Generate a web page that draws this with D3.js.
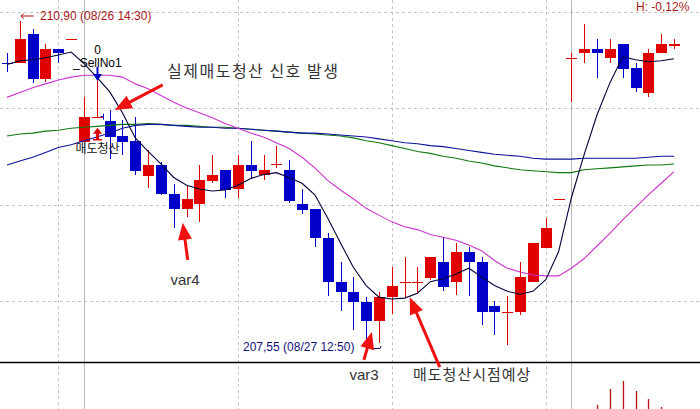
<!DOCTYPE html>
<html>
<head>
<meta charset="utf-8">
<script src="https://cdn.jsdelivr.net/npm/d3@7"></script>
<style>
  body { margin: 0; background: #fff; }
  svg { display: block; }
  text { font-family: "Liberation Sans", "Noto Sans CJK KR", sans-serif; }
  .kr { font-family: "Noto Sans CJK KR", sans-serif; }
</style>
</head>
<body>
<div id="chart"></div>
<script>
const WIDTH = 700
const HEIGHT = 409

// 10-minute candles, 08/26 - 08/27
const opens = [210.47, 210.47, 210.77, 210.30, 210.61, 210.72, 209.65, 209.91, 209.87, 209.71,
    209.66, 209.30, 209.41, 209.11, 208.95, 209.01, 209.24, 209.36, 209.16, 209.41,
    209.31, 209.42, 209.36, 209.01, 208.95, 208.65, 208.20, 208.09, 207.99, 207.79,
    208.04, 208.20, 208.20, 208.24, 208.40, 208.20, 208.51, 208.40, 207.95, 207.89,
    207.89, 208.20, 208.55, 209.06, 210.52, 210.57, 210.61, 210.52, 210.66, 210.41,
    210.16, 210.57, 210.66]
const highs = [210.57, 210.90, 210.82, 210.66, 210.61, 210.72, 210.11, 210.29, 209.98, 209.88,
    209.91, 209.56, 209.44, 209.21, 209.20, 209.41, 209.51, 209.36, 209.51, 209.66,
    209.51, 209.61, 209.46, 209.16, 208.95, 208.70, 208.40, 208.25, 208.04, 208.09,
    208.35, 208.46, 208.35, 208.46, 208.66, 208.60, 208.56, 208.46, 208.00, 208.05,
    208.40, 208.60, 208.86, 209.06, 210.57, 210.87, 210.72, 210.72, 210.66, 210.47,
    210.61, 210.77, 210.72]
const lows = [210.37, 210.47, 210.26, 210.27, 210.47, 210.72, 209.65, 209.91, 209.47, 209.51,
    209.31, 209.17, 209.10, 208.76, 208.87, 208.82, 209.22, 209.07, 209.07, 209.26,
    209.25, 209.38, 209.02, 208.90, 208.56, 208.05, 207.90, 207.70, 207.55, 207.56,
    207.87, 208.04, 208.07, 208.22, 208.10, 208.06, 208.05, 207.75, 207.65, 207.54,
    207.86, 208.20, 208.55, 209.06, 210.06, 210.47, 210.31, 210.47, 210.31, 210.17,
    210.11, 210.57, 210.61]
const closes = [210.46, 210.72, 210.30, 210.61, 210.57, 210.72, 209.91, 209.91, 209.70, 209.65,
    209.35, 209.41, 209.11, 208.95, 209.06, 209.25, 209.31, 209.15, 209.41, 209.35,
    209.36, 209.42, 209.04, 208.94, 208.65, 208.20, 208.09, 207.99, 207.79, 208.04,
    208.16, 208.20, 208.20, 208.46, 208.15, 208.51, 208.40, 207.89, 207.89, 207.89,
    208.25, 208.60, 208.76, 209.06, 210.52, 210.61, 210.57, 210.61, 210.40, 210.21,
    210.57, 210.66, 210.66]

const maShort = [210.45, 210.49, 210.50, 210.52, 210.55, 210.58, 210.46, 210.32, 210.17, 209.95,
    209.69, 209.55, 209.42, 209.28, 209.20, 209.16, 209.14, 209.15, 209.20, 209.27,
    209.31, 209.33, 209.28, 209.22, 209.10, 208.86, 208.60, 208.35, 208.16, 208.04,
    208.02, 208.03, 208.08, 208.20, 208.23, 208.28, 208.34, 208.25, 208.16, 208.10,
    208.07, 208.10, 208.22, 208.51, 209.07, 209.52, 209.93, 210.26, 210.53, 210.50,
    210.48, 210.49, 210.51]
const maMid = [210.11, 210.16, 210.21, 210.25, 210.29, 210.32, 210.34, 210.34, 210.34, 210.32,
    210.25, 210.20, 210.13, 210.06, 210.00, 209.95, 209.90, 209.84, 209.79, 209.74,
    209.70, 209.64, 209.58, 209.49, 209.38, 209.25, 209.15, 209.06, 208.96, 208.89,
    208.82, 208.77, 208.74, 208.69, 208.66, 208.63, 208.58, 208.52, 208.42, 208.34,
    208.30, 208.27, 208.26, 208.26, 208.34, 208.44, 208.57, 208.70, 208.84, 208.97,
    209.10, 209.22, 209.34]
const maGreen = [209.71, 209.73, 209.74, 209.76, 209.77, 209.79, 209.80, 209.81, 209.82, 209.83,
    209.83, 209.84, 209.83, 209.82, 209.82, 209.81, 209.80, 209.80, 209.79, 209.78,
    209.77, 209.76, 209.75, 209.74, 209.73, 209.72, 209.71, 209.69, 209.66, 209.64,
    209.61, 209.58, 209.55, 209.53, 209.50, 209.48, 209.45, 209.43, 209.40, 209.38,
    209.36, 209.35, 209.34, 209.33, 209.33, 209.36, 209.37, 209.38, 209.39, 209.40,
    209.41, 209.41, 209.42]
const maBlue = [209.41, 209.45, 209.49, 209.54, 209.59, 209.62, 209.66, 209.70, 209.74, 209.79,
    209.82, 209.83, 209.83, 209.82, 209.81, 209.80, 209.80, 209.79, 209.79, 209.78,
    209.77, 209.76, 209.75, 209.74, 209.74, 209.73, 209.72, 209.71, 209.70, 209.68,
    209.66, 209.64, 209.63, 209.61, 209.60, 209.58, 209.56, 209.54, 209.52, 209.51,
    209.50, 209.48, 209.47, 209.47, 209.47, 209.48, 209.48, 209.48, 209.48, 209.48,
    209.49, 209.50, 209.50]

const volumes = [310, 420, 380, 290, 260, 240, 520, 450, 410, 380,
    430, 350, 330, 360, 300, 340, 280, 260, 300, 250,
    230, 220, 300, 260, 340, 420, 380, 400, 450, 390,
    330, 280, 260, 300, 340, 320, 300, 380, 350, 330,
    360, 400, 380, 300, 560, 580, 636, 771, 839, 754,
    686, 619, 540]

const priceGrid = [208, 209, 210, 211]
const timeGridIdx = [4, 18, 30, 42]
const dayBreakIdx = [6, 44]

const RED = "#e00000"
const BLUE = "#0000c8"

const x = d3.scaleLinear().domain([0, opens.length - 1]).range([7, 674])
const y = d3.scaleLinear().domain([208, 211]).range([301, 11.5])
const yVol = d3.scaleLinear().domain([0, 1000]).range([480, 362])

const svg = d3.select("#chart").append("svg")
    .attr("width", WIDTH)
    .attr("height", HEIGHT)

// grid
svg.append("g")
    .selectAll("line")
    .data(priceGrid)
    .join("line")
    .attr("x1", 0).attr("x2", WIDTH)
    .attr("y1", d => Math.round(y(d)) + 0.5)
    .attr("y2", d => Math.round(y(d)) + 0.5)
    .attr("stroke", "#c4c4c4")
    .attr("stroke-dasharray", "3,3")

svg.append("g")
    .selectAll("line")
    .data(timeGridIdx)
    .join("line")
    .attr("x1", d => Math.round(x(d)) + 0.5)
    .attr("x2", d => Math.round(x(d)) + 0.5)
    .attr("y1", 0).attr("y2", HEIGHT)
    .attr("stroke", "#c4c4c4")
    .attr("stroke-dasharray", "3,3")

svg.append("g")
    .selectAll("line")
    .data(dayBreakIdx)
    .join("line")
    .attr("x1", d => Math.round(x(d)) + 0.5)
    .attr("x2", d => Math.round(x(d)) + 0.5)
    .attr("y1", 0).attr("y2", HEIGHT)
    .attr("stroke", "#b8b8b8")

// volume pane
svg.append("g")
    .selectAll("line")
    .data(volumes)
    .join("line")
    .attr("x1", (d, i) => Math.round(x(i)) + 0.5)
    .attr("x2", (d, i) => Math.round(x(i)) + 0.5)
    .attr("y1", d => yVol(d))
    .attr("y2", yVol(0))
    .attr("stroke", "#b81010")
    .attr("stroke-width", 1.3)

svg.append("line")
    .attr("x1", 0).attr("x2", WIDTH)
    .attr("y1", 362.5).attr("y2", 362.5)
    .attr("stroke", "#000")
    .attr("stroke-width", 1.3)

// candles
const candles = d3.range(opens.length).map(i => ({ i, o: opens[i], h: highs[i], l: lows[i], c: closes[i] }))
const candleColor = d => d.c >= d.o ? RED : BLUE

const cg = svg.append("g").attr("shape-rendering", "crispEdges")

cg.selectAll(".wick")
    .data(candles)
    .join("line")
    .attr("class", "wick")
    .attr("x1", d => Math.round(x(d.i)) + 0.5)
    .attr("x2", d => Math.round(x(d.i)) + 0.5)
    .attr("y1", d => y(d.h))
    .attr("y2", d => y(d.l))
    .attr("stroke", candleColor)
    .attr("stroke-width", 1.2)

cg.selectAll(".body")
    .data(candles)
    .join("rect")
    .attr("class", "body")
    .attr("x", d => Math.round(x(d.i)) - 5)
    .attr("width", 11)
    .attr("y", d => y(Math.max(d.o, d.c)))
    .attr("height", d => Math.max(1.2, Math.abs(y(d.o) - y(d.c))))
    .attr("fill", candleColor)

// moving averages
const line = d3.line()
    .x((d, i) => x(i))
    .y(d => y(d))

const maSeries = [
    { values: maGreen, color: "#107a10" },
    { values: maBlue, color: "#10109a" },
    { values: maMid, color: "#cc33cc" },
    { values: maShort, color: "#00003a" },
]

svg.append("g")
    .selectAll("path")
    .data(maSeries)
    .join("path")
    .attr("d", d => line(d.values))
    .attr("fill", "none")
    .attr("stroke", d => d.color)
    .attr("stroke-width", 1.1)

// signal at candle 7
const sigX = Math.round(x(7)) + 0.5
svg.append("path")
    .attr("d", `M${sigX},${y(highs[7]) - 13} L${sigX},${y(highs[7]) - 5}`)
    .attr("stroke", BLUE)
    .attr("stroke-width", 2)
svg.append("path")
    .attr("d", `M${sigX - 4.5},${y(highs[7]) - 6} L${sigX + 4.5},${y(highs[7]) - 6} L${sigX},${y(highs[7]) + 1} Z`)
    .attr("fill", BLUE)
svg.append("path")
    .attr("d", `M${sigX + 3},${y(closes[7])} L${sigX + 6},${y(closes[7])} M${sigX + 6},${y(closes[7]) - 3} L${sigX + 6},${y(closes[7]) + 3}`)
    .attr("stroke", BLUE)
    .attr("stroke-width", 1)

const upY = y(closes[7]) + 11
svg.append("path")
    .attr("d", `M${sigX},${upY} L${sigX - 4.5},${upY + 6} L${sigX + 4.5},${upY + 6} Z`)
    .attr("fill", RED)
svg.append("rect")
    .attr("x", sigX - 1.5).attr("y", upY + 5)
    .attr("width", 3).attr("height", 7)
    .attr("fill", RED)
svg.append("line")
    .attr("x1", sigX - 4.5).attr("x2", sigX + 4.5)
    .attr("y1", upY + 12).attr("y2", upY + 12)
    .attr("stroke", RED)
    .attr("stroke-width", 1.5)

svg.append("text")
    .attr("x", sigX).attr("y", 54)
    .attr("text-anchor", "middle")
    .attr("font-size", 12)
    .text("0")
svg.append("text")
    .attr("x", 73).attr("y", 66.5)
    .attr("font-size", 12)
    .text("_SellNo1")
svg.append("text")
    .attr("class", "kr")
    .attr("x", sigX).attr("y", 153)
    .attr("text-anchor", "middle")
    .attr("font-size", 12)
    .attr("fill", "#111")
    .text("매도청산")

// high / low labels
svg.append("path")
    .attr("d", `M${x(1) + 1},16 L${x(1) + 14},16 M${x(1) + 1},16 L${x(1) + 4},13.5 M${x(1) + 1},16 L${x(1) + 4},18.5`)
    .attr("stroke", "#a81818")
    .attr("fill", "none")
svg.append("text")
    .attr("x", 40).attr("y", 20)
    .attr("font-size", 12)
    .attr("fill", "#a81818")
    .text("210,90 (08/26 14:30)")

svg.append("text")
    .attr("x", 243).attr("y", 351)
    .attr("font-size", 12)
    .attr("fill", "#10107a")
    .text("207,55 (08/27 12:50)")
svg.append("path")
    .attr("d", `M${x(28) + 3},348.5 L${x(28) + 14},348.5 L${x(28) + 15},346`)
    .attr("stroke", "#10107a")
    .attr("fill", "none")

svg.append("text")
    .attr("x", 636).attr("y", 11)
    .attr("font-size", 12)
    .attr("fill", "#a81818")
    .text("H: -0,12%")

// red callouts
const callouts = [
    { idx: 8.4, price: 209.98, dx: 48, dy: -25 },
    { idx: 13.7, price: 208.81, dx: 5, dy: 37 },
    { idx: 28.45, price: 207.68, dx: -8, dy: 28 },
    { idx: 31.4, price: 208.04, dx: 30, dy: 70 },
]

const arrowPath = d => {
    const tx = x(d.idx), ty = y(d.price)
    const len = Math.hypot(d.dx, d.dy)
    const ux = d.dx / len, uy = d.dy / len
    const bx = tx + ux * 17, by = ty + uy * 17
    return `M${tx},${ty} L${bx - uy * 7},${by + ux * 7} L${bx + uy * 7},${by - ux * 7} Z`
}

const ag = svg.append("g")
ag.selectAll("line")
    .data(callouts)
    .join("line")
    .attr("x1", d => x(d.idx) + d.dx)
    .attr("y1", d => y(d.price) + d.dy)
    .attr("x2", d => x(d.idx) + d.dx * 12 / Math.hypot(d.dx, d.dy))
    .attr("y2", d => y(d.price) + d.dy * 12 / Math.hypot(d.dx, d.dy))
    .attr("stroke", "#f01010")
    .attr("stroke-width", 3)
ag.selectAll("path")
    .data(callouts)
    .join("path")
    .attr("d", arrowPath)
    .attr("fill", "#f01010")

svg.append("text")
    .attr("class", "kr")
    .attr("x", 167).attr("y", 77)
    .attr("font-size", 16)
    .attr("letter-spacing", 1.5)
    .attr("fill", "#333")
    .text("실제매도청산 신호 발생")

svg.append("text")
    .attr("x", 185).attr("y", 285)
    .attr("text-anchor", "middle")
    .attr("font-size", 15)
    .attr("fill", "#333")
    .text("var4")

svg.append("text")
    .attr("x", 364).attr("y", 380)
    .attr("text-anchor", "middle")
    .attr("font-size", 15)
    .attr("fill", "#333")
    .text("var3")

svg.append("text")
    .attr("class", "kr")
    .attr("x", 413).attr("y", 380)
    .attr("font-size", 15)
    .attr("letter-spacing", 1)
    .attr("fill", "#333")
    .text("매도청산시점예상")
</script>
</body>
</html>
